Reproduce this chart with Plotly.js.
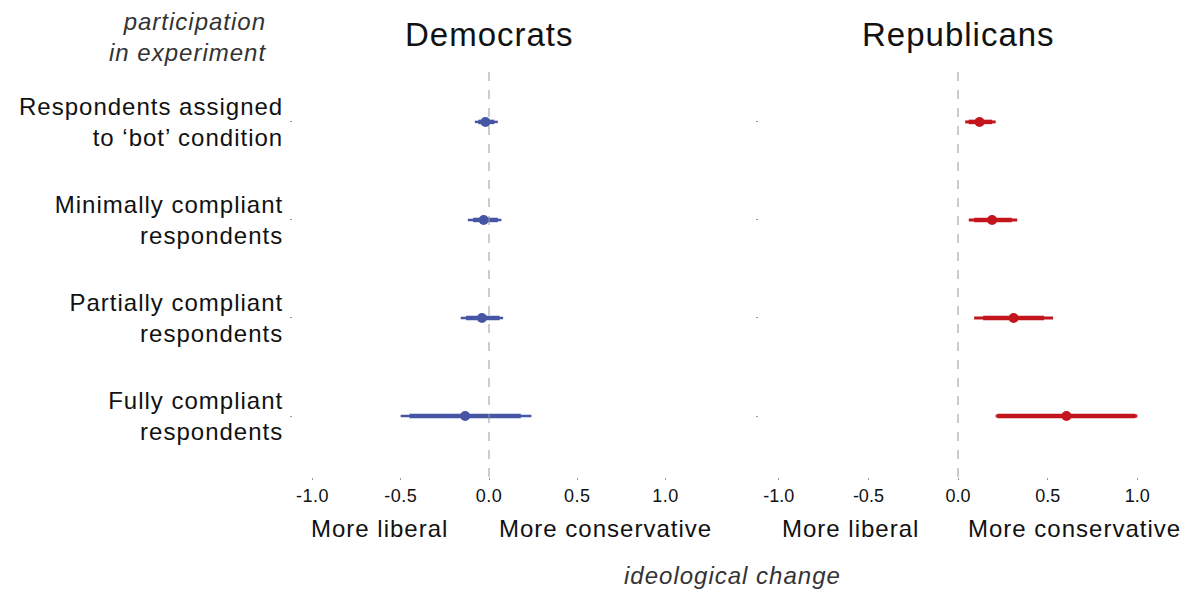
<!DOCTYPE html>
<html>
<head>
<meta charset="utf-8">
<script src="https://cdn.plot.ly/plotly-3.0.1.min.js"></script>
<style>
html,body{margin:0;padding:0;background:#fff;}
#chart{width:1188px;height:590px;}
#chart .ytick text{letter-spacing:1px;}
#chart .xtick text{letter-spacing:0.5px;}
.annotation-text{letter-spacing:1px;}
</style>
</head>
<body>
<div id="chart"></div>
<script>
// Categories (top to bottom)
const categories = [
  "Respondents assigned<br>to ‘bot’ condition",
  "Minimally compliant<br>respondents",
  "Partially compliant<br>respondents",
  "Fully compliant<br>respondents"
];
const rowPos = [4, 3, 2, 1];

// Democrats
const demEst  = [-0.02, -0.03, -0.04, -0.135];
const demLo95 = [-0.08, -0.12, -0.16, -0.50];
const demHi95 = [0.05, 0.07, 0.08, 0.24];
const demLo90 = [-0.06, -0.09, -0.13, -0.45];
const demHi90 = [0.03, 0.05, 0.06, 0.18];

// Republicans
const repEst  = [0.12, 0.19, 0.31, 0.605];
const repLo95 = [0.04, 0.06, 0.09, 0.21];
const repHi95 = [0.21, 0.33, 0.53, 1.00];
const repLo90 = [0.06, 0.09, 0.14, 0.22];
const repHi90 = [0.19, 0.30, 0.48, 0.99];

const tickVals = [-1, -0.5, 0, 0.5, 1];
const tickText = ["-1.0", "-0.5", "0.0", "0.5", "1.0"];

const BLUE = "#4656a5";
const RED = "#c3161c";
const FONT = "Liberation Sans, Arial, Helvetica, sans-serif";

function ciTrace(est, lo, hi, color, thick, xa, ya) {
  return {
    type: "scatter", mode: "markers",
    x: est, y: rowPos, xaxis: xa, yaxis: ya,
    marker: {size: 1, color: color},
    error_x: {
      type: "data", symmetric: false,
      array: hi.map((h, i) => h - est[i]),
      arrayminus: lo.map((l, i) => est[i] - l),
      color: color, thickness: thick, width: 0
    },
    hoverinfo: "skip", showlegend: false
  };
}
function ptTrace(est, color, xa, ya) {
  return {
    type: "scatter", mode: "markers",
    x: est, y: rowPos, xaxis: xa, yaxis: ya,
    marker: {size: 10, color: color},
    hoverinfo: "skip", showlegend: false
  };
}

const data = [
  ciTrace(demEst, demLo95, demHi95, BLUE, 2.5, "x", "y"),
  ciTrace(demEst, demLo90, demHi90, BLUE, 4.5, "x", "y"),
  ptTrace(demEst, BLUE, "x", "y"),
  ciTrace(repEst, repLo95, repHi95, RED, 3, "x2", "y2"),
  ciTrace(repEst, repLo90, repHi90, RED, 4.5, "x2", "y2"),
  ptTrace(repEst, RED, "x2", "y2")
];

const xCommon = {
  range: [-1.11, 1.11], tickvals: tickVals, ticktext: tickText,
  showgrid: false, zeroline: false, showline: false,
  ticks: "outside", ticklen: 2, tickcolor: "#999", tickwidth: 1,
  tickfont: {size: 18, color: "#111", family: FONT}, fixedrange: true
};
const yCommon = {
  range: [0.378, 4.55], showgrid: false, zeroline: false, showline: false,
  tickvals: rowPos, ticks: "outside", ticklen: 2, tickcolor: "#999", tickwidth: 1,
  fixedrange: true
};

const layout = {
  width: 1188, height: 590,
  margin: {l: 293, r: 31, t: 68, b: 113, pad: 0},
  paper_bgcolor: "#fff", plot_bgcolor: "#fff",
  font: {family: FONT, color: "#111"},
  showlegend: false,
  xaxis: Object.assign({}, xCommon, {domain: [0, 0.4537], anchor: "y"}),
  xaxis2: Object.assign({}, xCommon, {domain: [0.5394, 1], anchor: "y2"}),
  yaxis: Object.assign({}, yCommon, {
    domain: [0, 1], anchor: "x", ticktext: categories,
    tickfont: {size: 24, color: "#111", family: FONT}, ticklabelstandoff: 2
  }),
  yaxis2: Object.assign({}, yCommon, {domain: [0, 1], anchor: "x2", showticklabels: false}),
  shapes: [
    {type: "line", xref: "x", yref: "paper", x0: 0, x1: 0, y0: 0, y1: 1,
     line: {color: "#999", width: 1, dash: "dash"}},
    {type: "line", xref: "x2", yref: "paper", x0: 0, x1: 0, y0: 0, y1: 1,
     line: {color: "#999", width: 1, dash: "dash"}}
  ],
  annotations: [
    {text: "Democrats", xref: "x", x: 0, yref: "paper", y: 1.081, yanchor: "middle",
     showarrow: false, font: {size: 33, color: "#111", family: FONT}},
    {text: "Republicans", xref: "x2", x: 0, yref: "paper", y: 1.081, yanchor: "middle",
     showarrow: false, font: {size: 33, color: "#111", family: FONT}},
    {text: "<i>participation<br>in experiment</i>", xref: "paper", x: -0.0289, xanchor: "right",
     yref: "paper", y: 1.0758, yanchor: "middle", align: "right",
     showarrow: false, font: {size: 24, color: "#333", family: FONT}},
    {text: "More liberal", xref: "x", x: -0.62, yref: "paper", y: -0.1247, yanchor: "middle",
     showarrow: false, font: {size: 24, color: "#111", family: FONT}},
    {text: "More conservative", xref: "x", x: 0.66, yref: "paper", y: -0.1247, yanchor: "middle",
     showarrow: false, font: {size: 24, color: "#111", family: FONT}},
    {text: "More liberal", xref: "x2", x: -0.6, yref: "paper", y: -0.1247, yanchor: "middle",
     showarrow: false, font: {size: 24, color: "#111", family: FONT}},
    {text: "More conservative", xref: "x2", x: 0.65, yref: "paper", y: -0.1247, yanchor: "middle",
     showarrow: false, font: {size: 24, color: "#111", family: FONT}},
    {text: "<i>ideological change</i>", xref: "paper", x: 0.509, yref: "paper", y: -0.242,
     yanchor: "middle", showarrow: false, font: {size: 24, color: "#333", family: FONT}}
  ]
};

Plotly.newPlot("chart", data, layout, {displayModeBar: false, staticPlot: true});
</script>
</body>
</html>
